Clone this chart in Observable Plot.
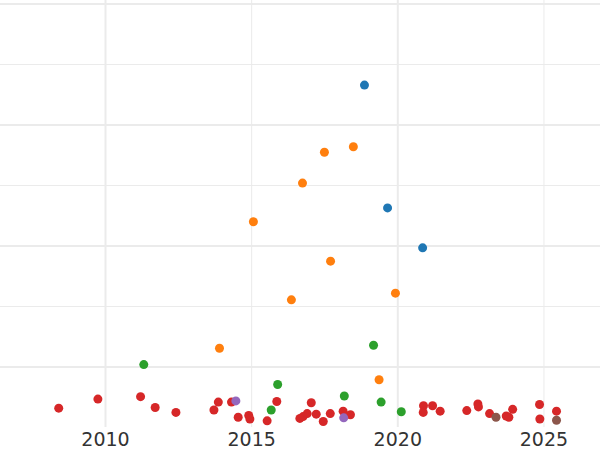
<!DOCTYPE html>
<html>
<head>
<meta charset="utf-8">
<script src="https://cdn.jsdelivr.net/npm/d3@7"></script>
<script src="https://cdn.jsdelivr.net/npm/@observablehq/plot@0.6"></script>
<style>
  html, body { margin: 0; padding: 0; background: #fff; }
  #chart { width: 600px; height: 450px; overflow: hidden; }
</style>
</head>
<body>
<div id="chart"></div>
<script>
// Series (tab10 colour order)
const seriesNames = ["Series 1", "Series 2", "Series 3", "Series 4", "Series 5", "Series 6"];
const seriesColors = ["#1f77b4", "#ff7f0e", "#2ca02c", "#d62728", "#9467bd", "#8c564b"];

const s1Year = [2018.86, 2019.65, 2020.85];
const s1Value = [566, 363, 297];

const s2Year = [2018.48, 2017.49, 2016.74, 2015.06, 2017.70, 2019.92, 2016.36, 2013.90, 2019.36];
const s2Value = [464, 455, 404, 340, 275, 222, 211, 131, 79];

const s3Year = [2011.31, 2019.17, 2015.89, 2018.17, 2019.43, 2015.67, 2020.12];
const s3Value = [104, 136, 71, 52, 42, 29, 26];

const s4Year = [2008.40, 2009.74, 2011.20, 2011.70, 2012.41, 2013.71, 2013.86, 2014.31, 2014.54, 2014.90,
  2014.94, 2015.53, 2015.86, 2016.65, 2016.76, 2016.90, 2017.04, 2017.21, 2017.45, 2017.69,
  2018.13, 2018.38, 2020.88, 2020.87, 2021.19, 2021.45, 2022.36, 2022.74, 2022.76, 2023.14,
  2023.71, 2023.80, 2023.93, 2024.85, 2024.86, 2025.43];
const s4Value = [32, 47, 51, 33, 25, 29, 42, 42, 17, 20,
  14, 11, 43, 15, 18, 23, 41, 22, 10, 23,
  27, 21, 36, 25, 36, 27, 28, 39, 34, 23,
  19, 17, 30, 38, 14, 27];

const s5Year = [2014.46, 2018.15];
const s5Value = [44, 16];

const s6Year = [2023.36, 2025.43];
const s6Value = [17, 12];

// Axis / grid ticks
const xTicks = [2010, 2015, 2020, 2025];
const xMajor = [2010, 2020];
const xMinor = [2015, 2025];
const yMajor = [100, 300, 500, 700];
const yMinor = [200, 400, 600];

const seriesYears = [s1Year, s2Year, s3Year, s4Year, s5Year, s6Year];
const seriesValues = [s1Value, s2Value, s3Value, s4Value, s5Value, s6Value];

const data = [];
seriesNames.forEach((name, i) => {
  seriesYears[i].forEach((yr, j) => data.push({series: name, year: yr, value: seriesValues[i][j]}));
});

const chart = Plot.plot({
  width: 600,
  height: 450,
  marginLeft: 0,
  marginRight: 0,
  marginTop: 0,
  marginBottom: 23,
  style: {background: "#fff", fontFamily: "DejaVu Sans"},
  x: {domain: [2006.408, 2026.935]},
  y: {domain: [0, 705.8]},
  color: {type: "ordinal", domain: seriesNames, range: seriesColors},
  marks: [
    Plot.ruleY(yMinor, {stroke: "#ebebeb", strokeWidth: 1}),
    Plot.ruleY(yMajor, {stroke: "#ebebeb", strokeWidth: 2}),
    Plot.ruleX(xMinor, {stroke: "#ebebeb", strokeWidth: 1}),
    Plot.ruleX(xMajor, {stroke: "#ebebeb", strokeWidth: 2}),
    Plot.axisY({ticks: [], label: null, tickSize: 0}),
    Plot.axisX({
      ticks: xTicks,
      tickFormat: d => String(d),
      tickSize: 0,
      tickPadding: 5,
      fontSize: 19,
      fill: "#333",
      label: null
    }),
    Plot.dot(data, {x: "year", y: "value", fill: "series", r: 4.5, stroke: null})
  ]
});
document.getElementById("chart").appendChild(chart);
</script>
</body>
</html>
